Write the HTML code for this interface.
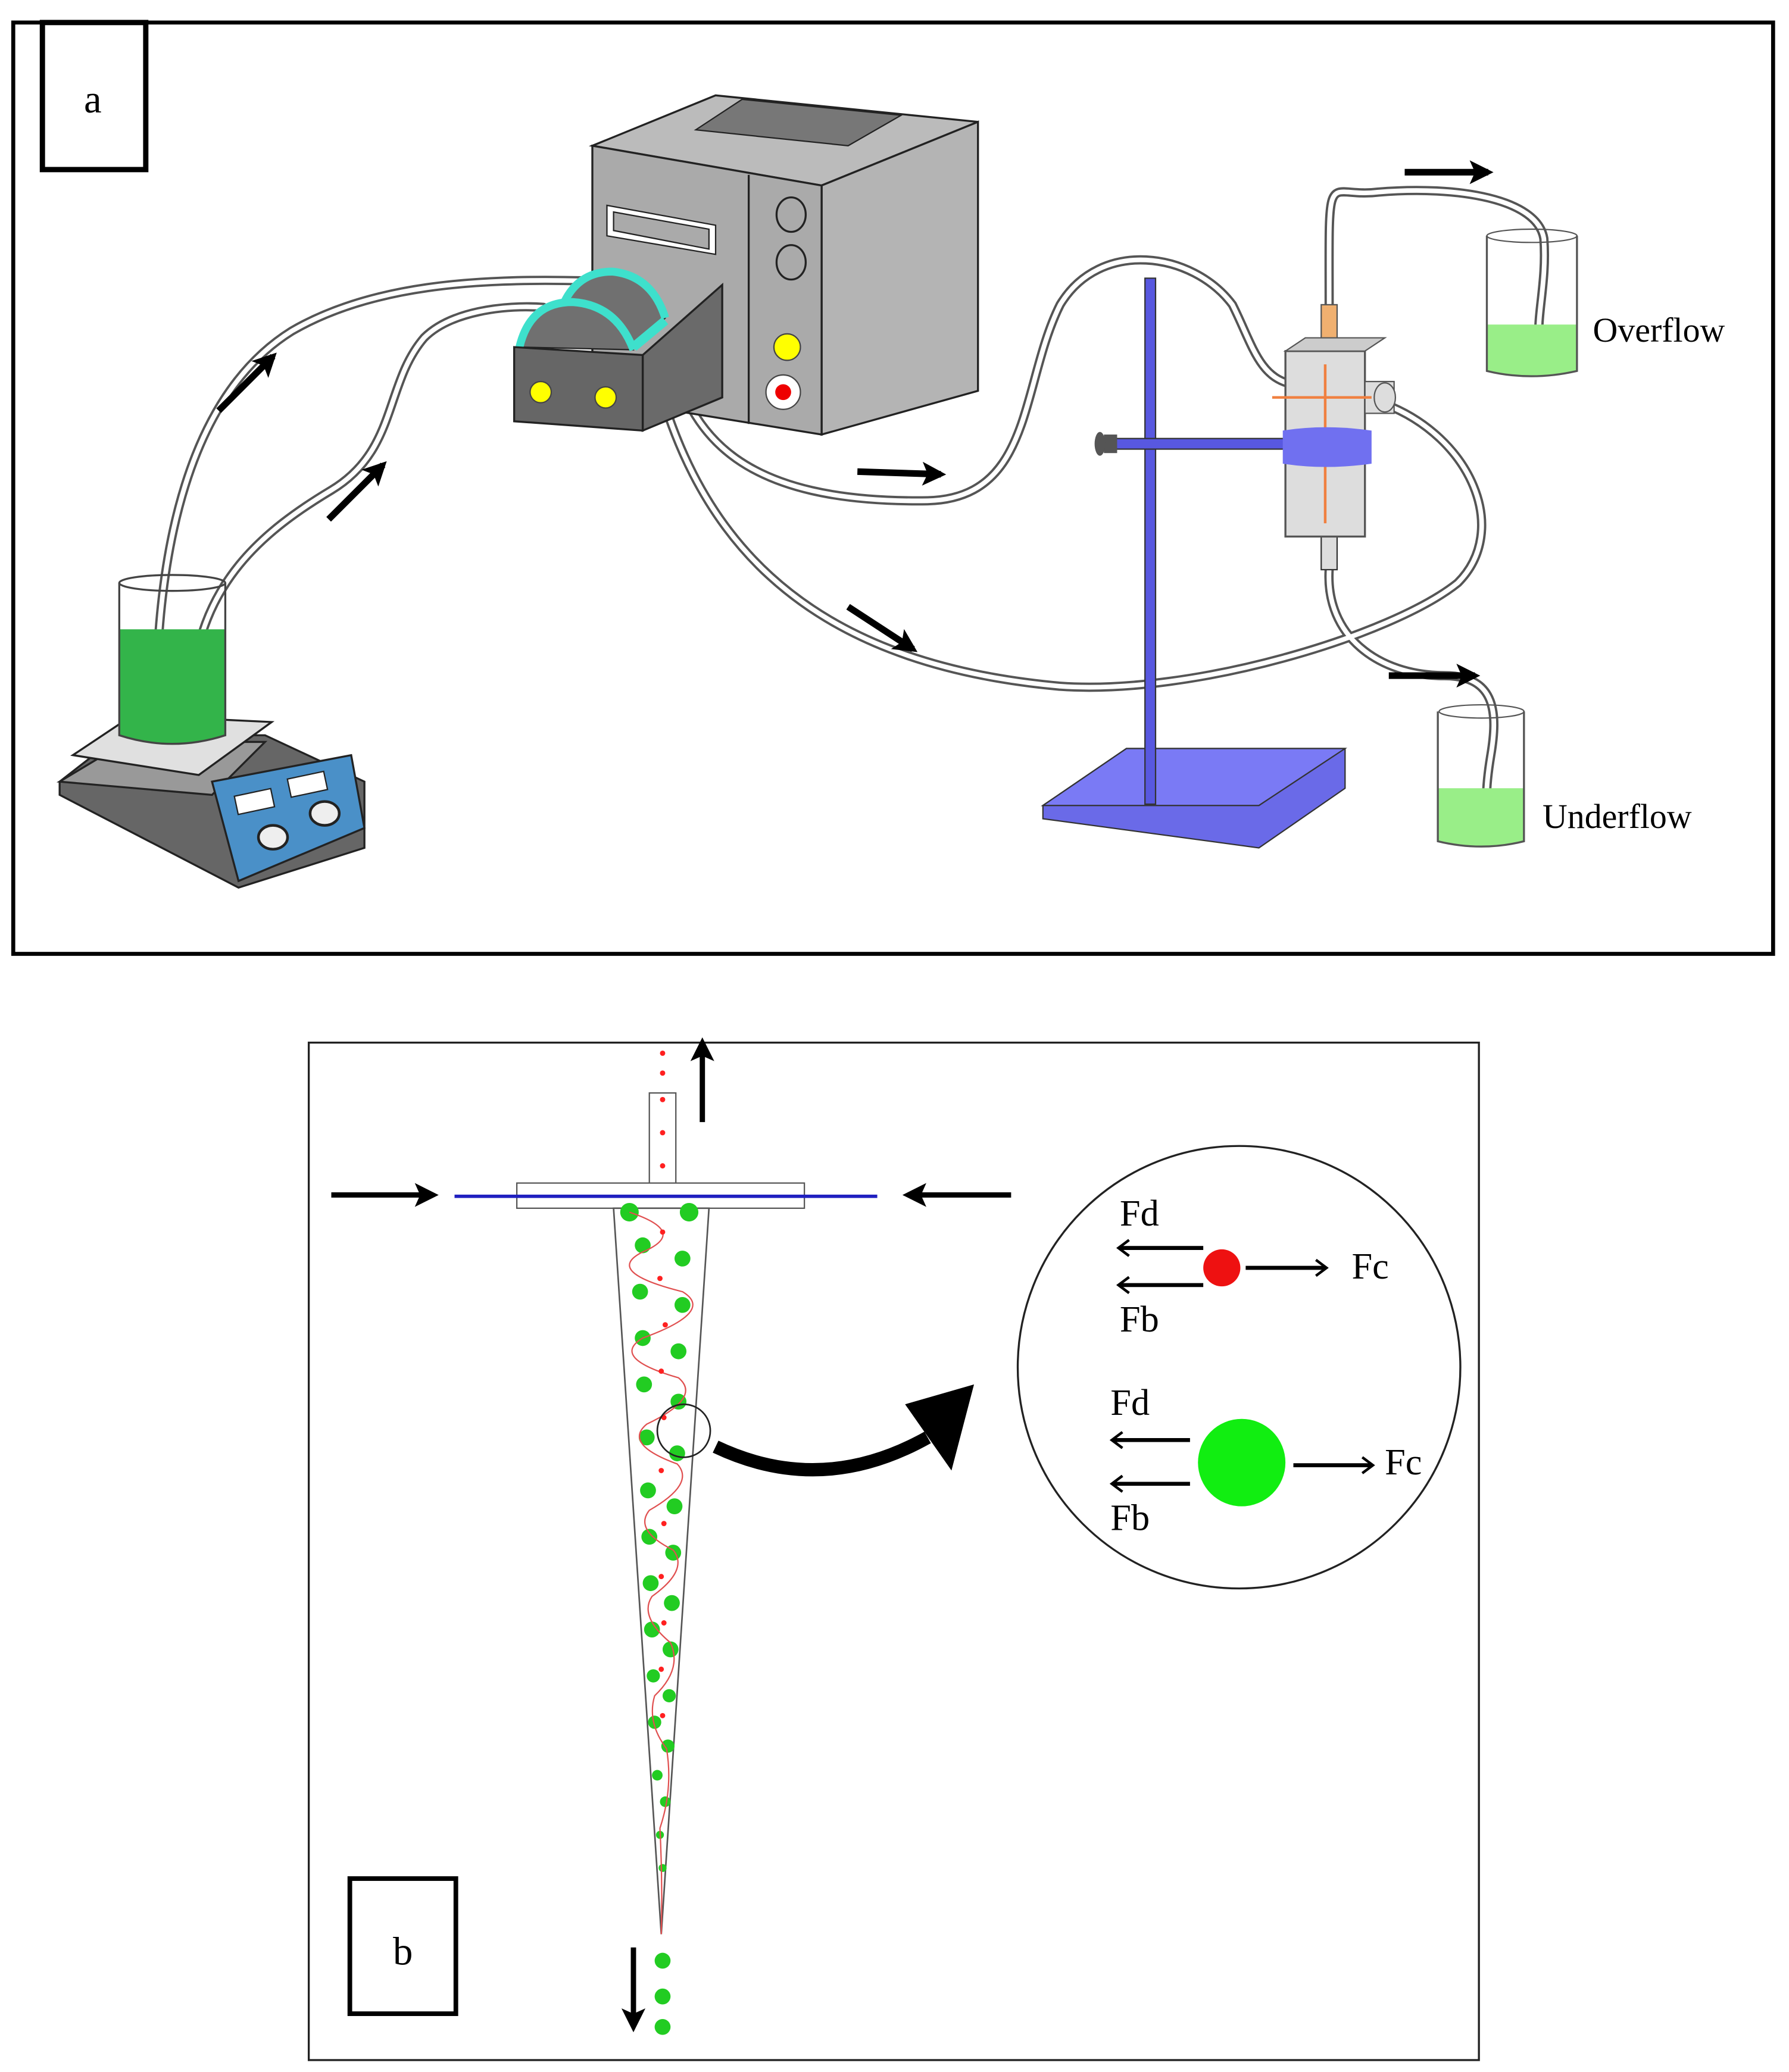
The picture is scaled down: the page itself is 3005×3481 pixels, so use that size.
<!DOCTYPE html>
<html><head><meta charset="utf-8"><style>html,body{margin:0;padding:0;background:#fff}svg{display:block}</style></head>
<body>
<svg width="3005" height="3481" viewBox="0 0 1350 1564" preserveAspectRatio="none" xmlns="http://www.w3.org/2000/svg" font-family="Liberation Serif, serif">
<defs>
<marker id="ah" markerWidth="20" markerHeight="18" refX="14" refY="9" orient="auto" markerUnits="userSpaceOnUse"><path d="M0,0 L18,9 L0,18 L4,9 Z" fill="#000"/></marker>
<marker id="oh" markerWidth="14" markerHeight="14" refX="9" refY="7" orient="auto" markerUnits="userSpaceOnUse"><path d="M2,1 L10,7 L2,13" fill="none" stroke="#000" stroke-width="2"/></marker>
</defs>
<rect width="1350" height="1564" fill="#fff"/>
<rect x="10" y="17" width="1328" height="703" fill="none" stroke="#000" stroke-width="3"/>
<rect x="32" y="17" width="78" height="111" fill="#fff" stroke="#000" stroke-width="4"/>
<text x="70" y="85" font-size="30" text-anchor="middle">a</text>

<g fill="none" stroke-linecap="round">
<g stroke="#555" stroke-width="7">
<path d="M118,520 C120,420 140,300 220,250 C280,215 360,210 440,212"/>
<path d="M145,520 C150,440 200,400 250,370 C300,340 290,290 320,255 C340,235 380,230 410,232"/>
<path d="M505,262 C520,330 560,380 700,378 C780,376 770,290 800,230 C830,180 900,190 930,230 C945,260 950,285 975,290"/>
<path d="M490,262 C520,400 600,500 800,518 C900,525 1050,480 1100,440 C1140,400 1110,330 1045,305"/>
<path d="M1003,230 C1003,120 1000,150 1040,145 C1100,140 1160,150 1165,180 C1168,220 1155,250 1165,270"/>
<path d="M1003,430 C1000,480 1040,510 1090,510 C1130,510 1130,540 1125,570 C1120,600 1120,620 1130,635"/>
</g>
<g stroke="#fff" stroke-width="3.5">
<path d="M118,520 C120,420 140,300 220,250 C280,215 360,210 440,212"/>
<path d="M145,520 C150,440 200,400 250,370 C300,340 290,290 320,255 C340,235 380,230 410,232"/>
<path d="M505,262 C520,330 560,380 700,378 C780,376 770,290 800,230 C830,180 900,190 930,230 C945,260 950,285 975,290"/>
<path d="M490,262 C520,400 600,500 800,518 C900,525 1050,480 1100,440 C1140,400 1110,330 1045,305"/>
<path d="M1003,230 C1003,120 1000,150 1040,145 C1100,140 1160,150 1165,180 C1168,220 1155,250 1165,270"/>
<path d="M1003,430 C1000,480 1040,510 1090,510 C1130,510 1130,540 1125,570 C1120,600 1120,620 1130,635"/>
</g>
</g>

<!-- hot plate -->
<polygon points="45,590 90,555 200,555 275,590 275,640 180,670 45,600" fill="#666" stroke="#222" stroke-width="1.5"/>
<polygon points="45,590 95,560 200,560 160,600" fill="#999" stroke="#222" stroke-width="1.5"/>
<polygon points="55,570 100,540 205,545 150,585" fill="#e0e0e0" stroke="#222" stroke-width="1.5"/>
<polygon points="160,590 265,570 275,625 180,665" fill="#4a90c8" stroke="#222" stroke-width="1.5"/>
<rect x="178" y="598" width="28" height="14" fill="#fff" stroke="#222" transform="rotate(-12 192 605)"/>
<rect x="218" y="585" width="28" height="14" fill="#fff" stroke="#222" transform="rotate(-12 232 592)"/>
<ellipse cx="206" cy="632" rx="11" ry="9" fill="#eee" stroke="#222" stroke-width="2"/>
<ellipse cx="245" cy="614" rx="11" ry="9" fill="#eee" stroke="#222" stroke-width="2"/>
<path d="M90,475 L90,555 Q130,568 170,555 L170,475 Z" fill="#33b44a"/>
<path d="M90,440 L90,555 Q130,568 170,555 L170,440" fill="none" stroke="#444" stroke-width="1.5"/>
<ellipse cx="130" cy="440" rx="40" ry="6" fill="none" stroke="#444" stroke-width="1.5"/>

<!-- pump -->
<polygon points="447,110 540,72 738,92 620,140" fill="#bbb" stroke="#222" stroke-width="1.5"/>
<polygon points="525,98 560,75 680,87 640,110" fill="#777" stroke="#222"/>
<polygon points="620,140 738,92 738,295 620,328" fill="#b4b4b4" stroke="#222" stroke-width="1.5"/>
<polygon points="447,110 620,140 620,328 447,300" fill="#aaa" stroke="#222" stroke-width="1.5"/>
<line x1="565" y1="132" x2="565" y2="320" stroke="#222" stroke-width="1.5"/>
<polygon points="458,155 540,170 540,192 458,178" fill="#fff" stroke="#222"/>
<polygon points="463,160 535,173 535,188 463,174" fill="#aaa" stroke="#222"/>
<ellipse cx="597" cy="162" rx="11" ry="13" fill="#aaa" stroke="#222" stroke-width="1.5"/>
<ellipse cx="597" cy="198" rx="11" ry="13" fill="#aaa" stroke="#222" stroke-width="1.5"/>
<circle cx="594" cy="262" r="10" fill="#ff0" stroke="#444"/>
<circle cx="591" cy="296" r="13" fill="#fff" stroke="#444"/>
<circle cx="591" cy="296" r="6" fill="#e00"/>
<!-- pump head -->
<polygon points="485,268 545,215 545,300 485,325" fill="#6a6a6a" stroke="#222" stroke-width="1.5"/>
<path d="M422,238 Q432,205 462,205 Q492,208 502,240 L480,262 Z" fill="#707070" stroke="#222"/>
<path d="M422,238 Q432,205 462,205 Q492,208 502,240" fill="none" stroke="#3ee0cc" stroke-width="6"/>
<path d="M392,262 Q400,228 432,228 Q465,230 478,264 Z" fill="#707070" stroke="#222"/>
<path d="M392,262 Q400,228 432,228 Q465,230 478,264" fill="none" stroke="#3ee0cc" stroke-width="6"/>
<line x1="478" y1="262" x2="502" y2="242" stroke="#3ee0cc" stroke-width="7"/>
<polygon points="388,262 485,268 485,325 388,318" fill="#666" stroke="#222" stroke-width="1.5"/>
<circle cx="408" cy="296" r="8" fill="#ff0" stroke="#444"/>
<circle cx="457" cy="300" r="8" fill="#ff0" stroke="#444"/>

<!-- stand -->
<polygon points="787,608 850,565 1015,565 1015,595 950,640 787,618" fill="#6a6ae8" stroke="#333"/>
<polygon points="787,608 850,565 1015,565 950,608" fill="#7a7af5" stroke="#333"/>
<rect x="864" y="210" width="8" height="397" fill="#5858e0" stroke="#333" stroke-width="1"/>
<rect x="840" y="331" width="160" height="8" fill="#5858e0" stroke="#333" stroke-width="1"/>
<rect x="833" y="328" width="10" height="14" fill="#555"/>
<ellipse cx="830" cy="335" rx="4" ry="9" fill="#555"/>
<rect x="997" y="230" width="12" height="40" fill="#f0b070" stroke="#555"/>
<rect x="997" y="400" width="12" height="30" fill="#ddd" stroke="#333"/>
<rect x="970" y="265" width="60" height="140" fill="#ddd" stroke="#555" stroke-width="1.5"/>
<polygon points="970,265 985,255 1045,255 1030,265" fill="#ccc" stroke="#555"/>
<rect x="1030" y="288" width="22" height="24" fill="#ddd" stroke="#555"/>
<ellipse cx="1045" cy="300" rx="8" ry="11" fill="#ddd" stroke="#555"/>
<path d="M960,300 L1035,300 M1000,275 L1000,395" stroke="#f08040" stroke-width="2" fill="none"/>
<path d="M968,325 Q1000,320 1035,325 L1035,350 Q1000,355 968,350 Z" fill="#7070f0"/>
<path d="M1122,245 L1122,280 Q1155,288 1190,280 L1190,245 Z" fill="#99ee88"/>
<path d="M1122,178 L1122,280 Q1155,288 1190,280 L1190,178" fill="none" stroke="#555" stroke-width="1.5"/>
<ellipse cx="1156" cy="178" rx="34" ry="5" fill="none" stroke="#555"/>
<path d="M1085,595 L1085,635 Q1118,643 1150,635 L1150,595 Z" fill="#99ee88"/>
<path d="M1085,537 L1085,635 Q1118,643 1150,635 L1150,537" fill="none" stroke="#555" stroke-width="1.5"/>
<ellipse cx="1118" cy="537" rx="32" ry="5" fill="none" stroke="#555"/>
<text x="1202" y="258" font-size="26">Overflow</text>
<text x="1164" y="625" font-size="26">Underflow</text>

<g stroke="#000" stroke-width="5" marker-end="url(#ah)">
<line x1="165" y1="310" x2="206" y2="269"/>
<line x1="248" y1="392" x2="289" y2="351"/>
<line x1="647" y1="356" x2="710" y2="358"/>
<line x1="640" y1="458" x2="689" y2="490"/>
<line x1="1060" y1="130" x2="1123" y2="130"/>
<line x1="1048" y1="510" x2="1113" y2="510"/>
</g>

<!-- panel b -->
<rect x="233" y="787" width="883" height="768" fill="none" stroke="#222" stroke-width="1.5"/>
<rect x="490" y="825" width="20" height="70" fill="#fff" stroke="#555"/>
<rect x="390" y="893" width="217" height="19" fill="#fff" stroke="#555"/>
<line x1="343" y1="903" x2="662" y2="903" stroke="#2020c0" stroke-width="2.5"/>
<polygon points="463,912 535,912 499,1460" fill="#fff" stroke="#555" stroke-width="1.2"/>
<g fill="#ff2020">
<circle cx="500" cy="795" r="2"/><circle cx="500" cy="810" r="2"/><circle cx="500" cy="830" r="2"/><circle cx="500" cy="855" r="2"/><circle cx="500" cy="880" r="2"/>
</g>
<g fill="#22cc22">
<circle cx="475" cy="915" r="7"/><circle cx="520" cy="915" r="7"/><circle cx="485" cy="940" r="6"/><circle cx="515" cy="950" r="6"/>
<circle cx="483" cy="975" r="6"/><circle cx="515" cy="985" r="6"/><circle cx="485" cy="1010" r="6"/><circle cx="512" cy="1020" r="6"/>
<circle cx="486" cy="1045" r="6"/><circle cx="512" cy="1058" r="6"/><circle cx="488" cy="1085" r="6"/><circle cx="511" cy="1097" r="6"/>
<circle cx="489" cy="1125" r="6"/><circle cx="509" cy="1137" r="6"/><circle cx="490" cy="1160" r="6"/><circle cx="508" cy="1172" r="6"/>
<circle cx="491" cy="1195" r="6"/><circle cx="507" cy="1210" r="6"/><circle cx="492" cy="1230" r="6"/><circle cx="506" cy="1245" r="6"/>
<circle cx="493" cy="1265" r="5"/><circle cx="505" cy="1280" r="5"/><circle cx="494" cy="1300" r="5"/><circle cx="504" cy="1318" r="5"/>
<circle cx="496" cy="1340" r="4"/><circle cx="502" cy="1360" r="4"/><circle cx="498" cy="1385" r="3"/><circle cx="500" cy="1410" r="3"/>
<circle cx="500" cy="1480" r="6"/><circle cx="500" cy="1507" r="6"/><circle cx="500" cy="1530" r="6"/>
</g>
<path d="M475,915 Q520,930 485,945 Q455,960 515,975 Q540,990 485,1010 Q460,1025 512,1040 Q530,1055 488,1075 Q470,1090 511,1105 Q525,1120 490,1140 Q478,1155 508,1170 Q520,1185 492,1205 Q482,1220 506,1240 Q515,1260 494,1280 Q488,1300 503,1320 Q508,1350 498,1380 Q500,1420 499,1460" fill="none" stroke="#e05050" stroke-width="1"/>
<g fill="#ff2020"><circle cx="500" cy="930" r="2"/><circle cx="498" cy="965" r="2"/><circle cx="502" cy="1000" r="2"/><circle cx="499" cy="1035" r="2"/><circle cx="501" cy="1070" r="2"/><circle cx="499" cy="1110" r="2"/><circle cx="501" cy="1150" r="2"/><circle cx="499" cy="1190" r="2"/><circle cx="501" cy="1225" r="2"/><circle cx="499" cy="1260" r="2"/><circle cx="500" cy="1295" r="2"/></g>
<circle cx="516" cy="1080" r="20" fill="none" stroke="#222" stroke-width="1.2"/>
<path d="M540,1092 Q620,1130 700,1085" fill="none" stroke="#000" stroke-width="10"/>
<polygon points="683,1060 735,1045 718,1110" fill="#000"/>
<g stroke="#000" stroke-width="4" marker-end="url(#ah)">
<line x1="530" y1="847" x2="530" y2="787"/>
<line x1="250" y1="902" x2="327" y2="902"/>
<line x1="763" y1="902" x2="685" y2="902"/>
<line x1="478" y1="1470" x2="478" y2="1530"/>
</g>
<circle cx="935" cy="1032" r="167" fill="#fff" stroke="#222" stroke-width="1.5"/>
<circle cx="922" cy="957" r="14" fill="#ee1111"/>
<circle cx="937" cy="1104" r="33" fill="#11ee11"/>
<g stroke="#000" stroke-width="3" fill="none">
<line x1="908" y1="942" x2="845" y2="942" marker-end="url(#oh)"/>
<line x1="908" y1="970" x2="845" y2="970" marker-end="url(#oh)"/>
<line x1="940" y1="957" x2="1000" y2="957" marker-end="url(#oh)"/>
<line x1="898" y1="1087" x2="840" y2="1087" marker-end="url(#oh)"/>
<line x1="898" y1="1120" x2="840" y2="1120" marker-end="url(#oh)"/>
<line x1="976" y1="1106" x2="1035" y2="1106" marker-end="url(#oh)"/>
</g>
<g font-size="28">
<text x="845" y="925">Fd</text><text x="845" y="1005">Fb</text><text x="1020" y="965">Fc</text>
<text x="838" y="1068">Fd</text><text x="838" y="1155">Fb</text><text x="1045" y="1113">Fc</text>
</g>
<rect x="264" y="1418" width="80" height="102" fill="#fff" stroke="#000" stroke-width="3.5"/>
<text x="304" y="1483" font-size="30" text-anchor="middle">b</text>
</svg>
</body></html>
